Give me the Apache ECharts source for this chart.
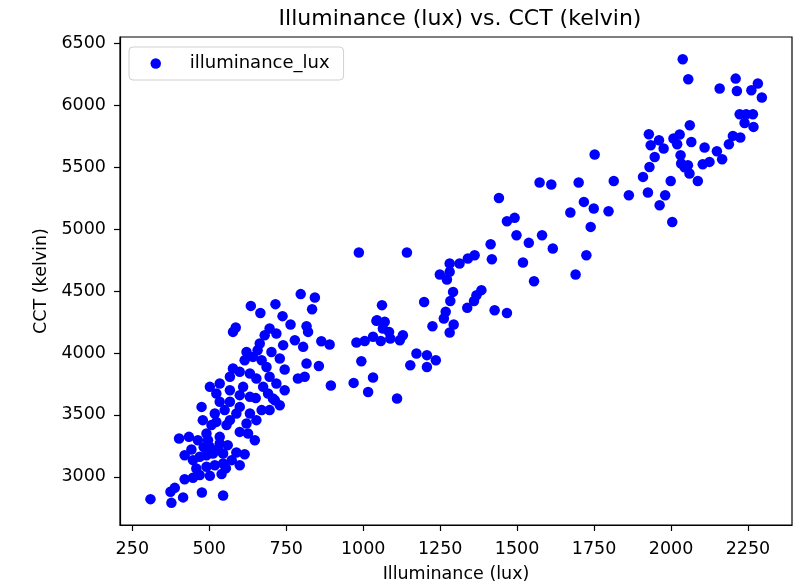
<!DOCTYPE html>
<html>
<head>
<meta charset="utf-8">
<script src="https://cdn.jsdelivr.net/npm/echarts@6/dist/echarts.min.js"></script>
<style>html,body{margin:0;padding:0;background:#fff}#c{width:808px;height:583px}</style>
</head>
<body>
<div id="c"></div>
<script>
const luxValues = [309,377,374,388,415,476,545,420,447,469,502,540,458,491,518,545,420,447,469,491,512,545,588,615,402,434,442,475,518,523,507,491,496,502,534,534,529,556,567,588,599,626,599,632,653,621,696,534,567,713,560,573,482,479,463,550,554,599,648,670,729,
797,635,666,715,738,764,816,586,577,696,680,718,740,778,805,664,621,642,615,670,729,686,745,816,577,599,567,632,653,696,718,788,810,502,534,523,567,610,675,691,745,632,707,651,
843,834,821,864,891,978,1005,1032,1043,856,994,895,969,1032,1016,657,702,599,
986,1142,1414,1418,1498,1362,1340,1313,1281,1281,1249,1272,1292,1283,1384,1368,1360,1338,1198,1268,1262,1294,1281,1225,1427,1467,1061,1045,1070,1064,1084,1129,1119,1088,1057,1173,1207,1236,1153,1207,1110,
1752,1930,1947,1909,1925,1963,1814,1863,1700,1573,1611,1441,1717,1749,1797,1673,1739,1492,1467,1581,1538,1616,1519,1725,1690,1555,
2038,2056,2158,2210,2214,2282,2261,2295,2223,2244,2266,2239,2268,2201,2225,2188,2061,2028,2008,2066,1928,1961,1934,1976,2020,2109,2149,2166,2031,2033,2103,2125,2055,1999,1981,2004,2044,2060,2087];
const cctValues = [2820,2790,2879,2911,2834,2874,2850,2981,2992,3014,3008,3022,3068,3081,3094,3108,3175,3135,3162,3175,3189,3189,3197,3183,3310,3323,3221,3565,3512,3444,3418,3350,3296,3242,3323,3270,3216,3418,3458,3512,3363,3350,3565,3512,3458,3431,3539,3606,3606,3619,3256,3135,3240,3458,3296,3539,3070,3094,3296,3539,3579,
4476,4381,4324,4395,4298,4231,4217,4207,4171,4198,4144,4158,4064,4104,4050,4077,4009,3969,3942,3942,3956,3888,3867,3916,3875,3848,3808,3835,3795,3808,3754,3795,3808,3727,3754,3673,3700,3727,3727,3673,3700,3646,3633,3636,
4449,4354,4171,4096,4069,4085,4098,4131,4260,3896,3934,3738,3759,3803,3686,4022,4008,3660,
4812,4812,4879,4758,4952,4790,4764,4723,4723,4656,4634,4594,4494,4421,4508,4467,4421,4365,4413,4333,4279,4231,4166,4217,4346,4324,4387,4265,4252,4198,4171,4144,4104,4118,4098,3997,3983,3942,3902,3888,3633,
5604,5503,5584,5423,5297,5194,5390,5275,5377,5377,5361,5253,5221,5168,5146,5135,5019,5092,5065,4952,4890,4844,4731,4790,4634,4580,
6373,6212,6137,6217,6117,6177,6123,6064,5929,5929,5929,5859,5827,5754,5741,5687,5840,5765,5733,5705,5768,5719,5679,5652,5687,5660,5630,5566,5598,5531,5525,5544,5517,5390,5275,5059,5501,5450,5390];
const xTicks = [250,500,750,1000,1250,1500,1750,2000,2250];
const yTicks = [3000,3500,4000,4500,5000,5500,6000,6500];

const points = luxValues.map((v, i) => [v, cctValues[i]]);
const font = 'DejaVu Sans';
const chart = echarts.init(document.getElementById('c'), null, {renderer: 'canvas'});
chart.setOption({
  animation: false,
  backgroundColor: '#fff',
  title: {
    text: 'Illuminance (lux) vs. CCT (kelvin)',
    left: 455, top: 3, textAlign: 'center',
    textStyle: {fontFamily: font, fontSize: 22, fontWeight: 'normal', color: '#000'}
  },
  legend: {
    left: 129, top: 47,
    orient: 'vertical',
    itemWidth: 50, itemHeight: 10.5,
    padding: [6, 14, 6, 21.5],
    borderColor: '#d0d0d0', borderWidth: 1, borderRadius: 4,
    textStyle: {fontFamily: font, fontSize: 18, color: '#000', padding: [0, 0, 0, 4], lineHeight: 21},
    data: [{name: 'illuminance_lux', icon: 'circle'}]
  },
  grid: {left: 120, right: 16, top: 37, bottom: 58, outerBoundsMode: 'none', containLabel: false, show: true, borderColor: '#000', borderWidth: 1.2, backgroundColor: 'transparent'},
  xAxis: {
    type: 'value', min: 210, max: 2393,
    name: 'Illuminance (lux)', nameLocation: 'middle', nameGap: 40,
    nameTextStyle: {fontFamily: font, fontSize: 17.5, color: '#000'},
    axisLine: {show: true, lineStyle: {color: '#000', width: 1.2}},
    axisTick: {show: true, length: 6, lineStyle: {color: '#000', width: 1.2}, customValues: xTicks},
    axisLabel: {fontFamily: font, fontSize: 17.5, color: '#000', margin: 15, customValues: xTicks, formatter: v => String(v)},
    splitLine: {show: false}
  },
  yAxis: {
    type: 'value', min: 2611, max: 6553,
    name: 'CCT (kelvin)', nameLocation: 'middle', nameGap: 70, nameRotate: 90,
    nameTextStyle: {fontFamily: font, fontSize: 17.5, color: '#000'},
    axisLine: {show: true, lineStyle: {color: '#000', width: 1.2}},
    axisTick: {show: true, length: 6, lineStyle: {color: '#000', width: 1.2}, customValues: yTicks},
    axisLabel: {fontFamily: font, fontSize: 17.5, color: '#000', margin: 14, customValues: yTicks, formatter: v => String(v)},
    splitLine: {show: false}
  },
  series: [{
    name: 'illuminance_lux',
    type: 'scatter',
    symbol: 'circle',
    symbolSize: 10.5,
    itemStyle: {color: '#0000ff', opacity: 1},
    data: points
  }]
});
</script>
</body>
</html>
